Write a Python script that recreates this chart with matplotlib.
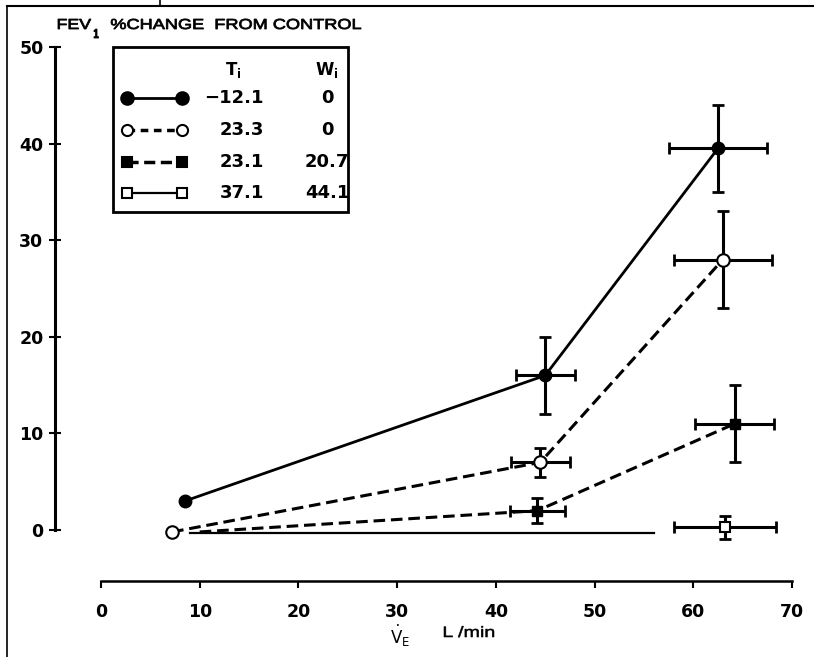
import matplotlib
matplotlib.use("Agg")
import matplotlib.pyplot as plt
from matplotlib.lines import Line2D
from matplotlib.patches import Rectangle, PathPatch
from matplotlib.textpath import TextPath
from matplotlib.font_manager import FontProperties
from matplotlib.transforms import Affine2D

# FEV1 % change from control vs ventilation (V_E, L/min)
# series: filled circle (T=-12.1, W=0), open circle (23.3, 0),
#         filled square (23.1, 20.7), open square (37.1, 44.1)
s1_x = [8.5, 45.0, 62.5]
s1_y = [3.0, 16.0, 39.5]
s1_xerr = [0.0, 3.0, 5.0]
s1_yerr = [0.0, 4.0, 4.5]

s2_x = [7.2, 44.5, 63.0]
s2_y = [-0.2, 7.0, 28.0]
s2_xerr = [0.0, 3.0, 5.0]
s2_yerr = [0.0, 1.5, 5.0]

s3_x = [10.0, 44.2, 64.2]
s3_y = [-0.2, 2.0, 11.0]
s3_xerr = [0.0, 2.8, 4.0]
s3_yerr = [0.0, 1.3, 4.0]

s4_line_x = [9.0, 56.0]
s4_line_y = [-0.3, -0.3]
s4_x = [63.2]
s4_y = [0.3]
s4_xerr = [5.2]
s4_yerr = [1.2]

x_ticks = [0, 10, 20, 30, 40, 50, 60, 70]
y_ticks = [0, 10, 20, 30, 40, 50]

legend_T = ["\u221212.1", "23.3", "23.1", "37.1"]
legend_W = ["0", "0", "20.7", "44.1"]

W, H = 814, 657


def fx(px):
    return px / W


def fy(py):
    return 1 - py / H


fig = plt.figure(figsize=(W / 100, H / 100), dpi=100)


def fit_text(s, x, y_base, em_px, width_px, weight='normal', edge=0.6):
    # old typewriter-ish lettering: text path stretched to the measured width
    tp = TextPath((0, 0), s, size=100,
                  prop=FontProperties(family='Liberation Sans', weight=weight))
    bb = tp.get_extents()
    tr = (Affine2D().translate(-bb.x0, 0)
          .scale(width_px / bb.width, em_px / 100)
          .translate(x, H - y_base))
    fig.add_artist(PathPatch(tp, transform=tr, fc='black', ec='black', lw=edge))


# axes placed so that data maps onto the reference pixel grid
x0px, x70px = 101, 792
y0px, y50px = 530, 47
sx = (x70px - x0px) / 70
sy = (y0px - y50px) / 50
xlim = (-4.7, 71)
ylim = (-5.28, 52)
left = x0px + xlim[0] * sx
right = x0px + xlim[1] * sx
bottom = y0px - ylim[0] * sy
top = y0px - ylim[1] * sy
ax = fig.add_axes([fx(left), fy(bottom), fx(right) - fx(left), fy(top) - fy(bottom)])
ax.set_xlim(*xlim)
ax.set_ylim(*ylim)
ax.patch.set_alpha(0)

dash = (3.8, 1.9)


def draw_errs(xs, ys, xe, ye):
    for x, y, a, b in zip(xs, ys, xe, ye):
        if a == 0 and b == 0:
            continue
        ax.errorbar([x], [y], xerr=[a], yerr=[b], fmt='none', ecolor='black',
                    elinewidth=2.2, capsize=4.5, capthick=2, zorder=3)


# series 1: filled circles, solid
ax.plot(s1_x, s1_y, '-', color='black', lw=2.0, zorder=2)
draw_errs(s1_x, s1_y, s1_xerr, s1_yerr)
ax.plot(s1_x, s1_y, 'o', color='black', ms=9, zorder=4)

# series 2: open circles, dashed
ax.plot(s2_x, s2_y, color='black', lw=2.2, dashes=dash, zorder=2)
draw_errs(s2_x, s2_y, s2_xerr, s2_yerr)
ax.plot(s2_x, s2_y, 'o', mfc='white', mec='black', mew=1.5, ms=9, zorder=4)

# series 3: filled squares, dashed
ax.plot(s3_x, s3_y, color='black', lw=2.2, dashes=dash, zorder=2)
draw_errs(s3_x, s3_y, s3_xerr, s3_yerr)
ax.plot(s3_x[1:], s3_y[1:], 's', color='black', ms=7, zorder=4)

# series 4: open square, thin solid
ax.plot(s4_line_x, s4_line_y, '-', color='black', lw=1.6, zorder=2)
draw_errs(s4_x, s4_y, s4_xerr, s4_yerr)
ax.plot(s4_x, s4_y, 's', mfc='white', mec='black', mew=1.5, ms=7, zorder=4)

# axes styling
for s in ['top', 'right']:
    ax.spines[s].set_visible(False)
ax.spines['left'].set_bounds(0, 50)
ax.spines['bottom'].set_bounds(0, 70)
ax.spines['left'].set_linewidth(2.2)
ax.spines['bottom'].set_linewidth(1.8)
ax.set_xticks(x_ticks)
ax.set_yticks(y_ticks)
ax.tick_params(axis='y', direction='inout', length=8, width=1.5, pad=4)
ax.tick_params(axis='x', direction='out', length=5, width=1.5, pad=11)
tick_font = dict(family='DejaVu Sans', weight='bold', size=12.5)
ax.set_xticklabels([str(t) for t in x_ticks], **tick_font)
ax.set_yticklabels([str(t) for t in y_ticks], **tick_font)

# title above the y axis
fit_text("FEV", 58, 29, 14.5, 33)
fit_text("1", 94, 38, 13, 4.5, weight='bold')
fit_text("%CHANGE  FROM CONTROL", 111, 29, 14.5, 250)

# x label, centred under the axis
fig.text(fx(400), fy(636), r'$\dot{\mathrm{V}}_{\mathrm{E}}$', size=12, ha='center', va='center')
fit_text("L /min", 444, 637, 15, 50, edge=0.4)

# legend table drawn by hand
fig.add_artist(Rectangle((fx(113), fy(212)), fx(348) - fx(113), fy(47) - fy(212),
                         transform=fig.transFigure, fill=False, lw=2, ec='black'))
fig.text(fx(233), fy(70), r'$\mathbf{T_i}$', size=12, ha='center', va='center')
fig.text(fx(327), fy(70), r'$\mathbf{W_i}$', size=12, ha='center', va='center')
row_y = [98, 130, 162, 193]
styles = [
    dict(ls='-', lw=2, marker='o', mfc='black', ms=9),
    dict(ls=(0, (2.2, 1.6)), lw=2.5, marker='o', mfc='white', ms=8),
    dict(ls=(0, (3.2, 1.6)), lw=2.5, marker='s', mfc='black', ms=7),
    dict(ls='-', lw=1.6, marker='s', mfc='white', ms=7),
]
val_font = dict(family='DejaVu Sans', weight='bold', size=13)
for ry, st, tv, wv in zip(row_y, styles, legend_T, legend_W):
    fig.add_artist(Line2D([fx(127), fx(182)], [fy(ry), fy(ry)], transform=fig.transFigure,
                          color='black', mec='black', mew=1.5, **st))
    fig.text(fx(264), fy(ry), tv, ha='right', va='center', **val_font)
    fig.text(fx(327), fy(ry), wv, ha='center', va='center', **val_font)

# scan frame lines
fig.add_artist(Line2D([fx(7), fx(814)], [fy(6), fy(6)], transform=fig.transFigure, color='black', lw=1.5))
fig.add_artist(Line2D([fx(7), fx(7)], [fy(6), fy(657)], transform=fig.transFigure, color='black', lw=1.2))
fig.add_artist(Line2D([fx(160), fx(160)], [fy(0), fy(6)], transform=fig.transFigure, color='black', lw=1.2))

fig.savefig("out.png", dpi=100)
